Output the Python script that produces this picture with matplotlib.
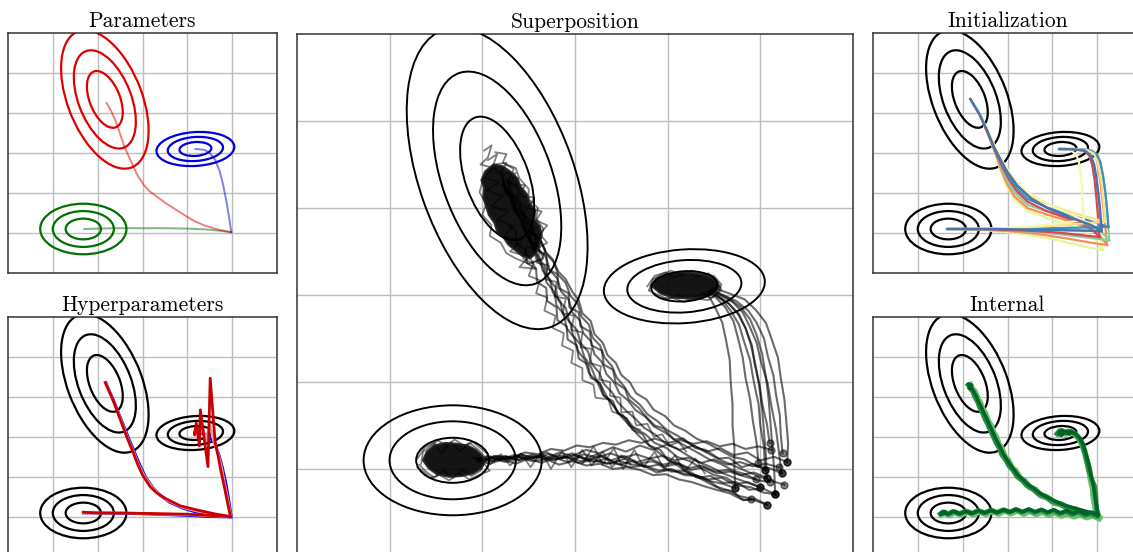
import numpy as np
import matplotlib
matplotlib.use("Agg")
import matplotlib.pyplot as plt
from matplotlib.patches import Ellipse, Polygon

# three gaussian modes: green (bottom left), blue (right), red (top)
mode_means = [(1.68, 1.10), (4.18, 3.10), (2.16, 4.34)]
mode_sx = [0.394, 0.356, 0.40]
mode_sy = [0.259, 0.175, 0.71]
mode_rho = [0.0, 0.12, -0.45]
levels = [1.0, 1.73, 2.44]
param_colors = ["#007000", "#0000dd", "#e00000"]

# --- Parameters panel: one start, three parameter settings
par_green = [(4.98, 1.02), (4.7, 1.06), (4.4, 1.09), (4.0, 1.11), (3.5, 1.12), (3.0, 1.12),
             (2.5, 1.12), (2.0, 1.11), (1.7, 1.10)]
par_blue = [(4.98, 1.02), (4.93, 1.4), (4.87, 1.8), (4.8, 2.2), (4.72, 2.55), (4.62, 2.83),
            (4.5, 3.0), (4.38, 3.08), (4.18, 3.1)]
par_red = [(4.98, 1.02), (4.7, 1.08), (4.4, 1.18), (4.15, 1.3), (3.99, 1.41), (3.75, 1.58),
           (3.5, 1.76), (3.32, 1.91), (3.15, 2.05), (3.03, 2.2), (2.9, 2.42), (2.8, 2.65),
           (2.7, 2.9), (2.6, 3.15), (2.5, 3.48), (2.39, 3.83), (2.3, 4.05), (2.2, 4.25)]

# --- Hyperparameters panel: blue, pink and red runs
hyp_colors = ["#0000ff", "#ff9a9a", "#c80000"]
hyp_green = [
    [(4.98, 1.0), (4.5, 1.01), (4.0, 1.04), (3.5, 1.06), (3.0, 1.08), (2.5, 1.09), (2.0, 1.1), (1.68, 1.1)],
    [(4.97, 1.01), (4.5, 1.03), (4.0, 1.06), (3.5, 1.07), (3.0, 1.09), (2.5, 1.1), (2.0, 1.1), (1.68, 1.1)],
    [(4.96, 1.01), (4.5, 1.04), (4.0, 1.07), (3.5, 1.08), (3.0, 1.09), (2.5, 1.1), (2.0, 1.1), (1.68, 1.12)],
]
hyp_red = [
    [(4.98, 1.0), (4.6, 1.05), (4.2, 1.12), (3.9, 1.22), (3.6, 1.37), (3.38, 1.55), (3.22, 1.75),
     (3.06, 2.02), (2.93, 2.33), (2.83, 2.6), (2.68, 3.0), (2.52, 3.45), (2.36, 3.9), (2.18, 4.36)],
    [(4.97, 1.0), (4.6, 1.07), (4.2, 1.15), (3.87, 1.25), (3.55, 1.42), (3.34, 1.59), (3.2, 1.76),
     (3.03, 2.04), (2.9, 2.34), (2.81, 2.6), (2.66, 3.0), (2.51, 3.45), (2.35, 3.9), (2.17, 4.36)],
    [(4.96, 1.01), (4.6, 1.08), (4.2, 1.18), (3.84, 1.28), (3.5, 1.47), (3.3, 1.62), (3.17, 1.76),
     (3.0, 2.05), (2.88, 2.35), (2.8, 2.59), (2.65, 3.0), (2.5, 3.45), (2.35, 3.9), (2.17, 4.36)],
]
hyp_blue = [
    [(4.98, 1.02), (4.92, 1.45), (4.86, 1.85), (4.78, 2.25), (4.7, 2.58), (4.6, 2.85), (4.48, 3.02),
     (4.34, 3.09), (4.18, 3.1)],
    [(4.97, 1.02), (4.89, 1.5), (4.82, 1.9), (4.75, 2.3), (4.68, 2.62), (4.6, 2.85), (4.5, 3.3),
     (4.42, 2.9), (4.35, 3.2), (4.25, 3.05), (4.18, 3.1)],
    [(4.96, 1.02), (4.88, 1.45), (4.81, 1.84), (4.74, 2.2), (4.69, 2.51), (4.64, 2.75), (4.62, 2.88),
     (4.51, 4.47), (4.46, 2.26), (4.29, 3.68), (4.27, 2.78), (4.2, 3.35), (4.16, 3.05), (4.17, 3.13)],
]

# --- Initialization panel: several starts, each run goes to the three modes
init_cvals = [0.6, 0.25, 0.75, 0.12, 0.88, 0.4, 0.55]
init_green = [
    [(5.12, 0.58), (4.8, 0.64), (4.4, 0.74), (4.0, 0.85), (3.5, 0.95), (3.0, 1.02), (2.5, 1.07), (2.0, 1.09), (1.7, 1.1)],
    [(5.22, 0.7), (4.85, 0.76), (4.45, 0.84), (4.0, 0.92), (3.5, 1.0), (3.0, 1.05), (2.5, 1.08), (2.0, 1.1), (1.7, 1.1)],
    [(5.27, 0.82), (4.9, 0.87), (4.45, 0.93), (4.0, 0.99), (3.5, 1.04), (3.0, 1.07), (2.5, 1.09), (2.0, 1.1), (1.7, 1.1)],
    [(5.05, 0.9), (4.7, 0.94), (4.3, 0.99), (3.9, 1.03), (3.4, 1.06), (2.9, 1.08), (2.4, 1.1), (2.0, 1.1), (1.7, 1.1)],
    [(5.25, 1.15), (4.85, 1.14), (4.4, 1.13), (3.9, 1.12), (3.4, 1.11), (2.9, 1.11), (2.4, 1.1), (2.0, 1.1), (1.7, 1.1)],
    [(5.18, 1.28), (4.8, 1.25), (4.35, 1.21), (3.9, 1.17), (3.4, 1.14), (2.9, 1.12), (2.4, 1.11), (2.0, 1.1), (1.7, 1.1)],
    [(4.7, 1.32), (4.4, 1.28), (4.0, 1.22), (3.55, 1.17), (3.05, 1.13), (2.55, 1.11), (2.1, 1.1), (1.7, 1.1)],
]
init_red = [
    [(5.12, 0.58), (4.95, 0.85), (4.7, 1.05), (4.35, 1.2), (3.95, 1.35), (3.45, 1.55), (3.15, 1.85), (2.97, 2.2),
     (2.85, 2.55), (2.72, 3.0), (2.55, 3.5), (2.38, 3.95), (2.18, 4.32)],
    [(5.22, 0.7), (5.05, 0.95), (4.8, 1.12), (4.45, 1.27), (4.0, 1.42), (3.45, 1.62), (3.15, 1.92), (2.98, 2.25),
     (2.86, 2.58), (2.72, 3.02), (2.56, 3.5), (2.39, 3.94), (2.18, 4.32)],
    [(5.27, 0.82), (5.08, 1.05), (4.82, 1.2), (4.45, 1.34), (4.0, 1.5), (3.45, 1.7), (3.18, 1.98), (3.0, 2.3),
     (2.87, 2.62), (2.72, 3.04), (2.56, 3.52), (2.39, 3.95), (2.18, 4.32)],
    [(5.05, 0.9), (4.88, 1.1), (4.62, 1.25), (4.25, 1.4), (3.85, 1.56), (3.45, 1.78), (3.2, 2.05), (3.02, 2.36),
     (2.88, 2.66), (2.72, 3.06), (2.55, 3.52), (2.38, 3.95), (2.18, 4.32)],
    [(5.25, 1.15), (5.0, 1.25), (4.7, 1.35), (4.3, 1.48), (3.9, 1.63), (3.45, 1.85), (3.22, 2.1), (3.03, 2.4),
     (2.89, 2.7), (2.73, 3.08), (2.56, 3.54), (2.39, 3.96), (2.18, 4.32)],
    [(5.18, 1.28), (4.92, 1.36), (4.6, 1.46), (4.2, 1.6), (3.8, 1.77), (3.45, 1.95), (3.24, 2.18), (3.05, 2.45),
     (2.9, 2.74), (2.74, 3.1), (2.56, 3.55), (2.38, 3.97), (2.18, 4.32)],
    [(4.7, 1.32), (4.45, 1.45), (4.1, 1.62), (3.75, 1.82), (3.45, 2.02), (3.22, 2.25), (3.05, 2.5), (2.9, 2.78),
     (2.74, 3.12), (2.56, 3.56), (2.38, 3.98), (2.18, 4.32)],
]
init_blue = [
    [(5.12, 0.58), (5.08, 1.1), (5.03, 1.6), (4.98, 2.1), (4.93, 2.55), (4.88, 2.88), (4.78, 3.04), (4.55, 3.09), (4.18, 3.1)],
    [(5.22, 0.7), (5.18, 1.2), (5.13, 1.7), (5.08, 2.2), (5.03, 2.62), (4.97, 2.92), (4.85, 3.06), (4.6, 3.09), (4.18, 3.1)],
    [(5.27, 0.82), (5.24, 1.3), (5.2, 1.8), (5.15, 2.25), (5.09, 2.65), (5.02, 2.94), (4.88, 3.07), (4.62, 3.1), (4.18, 3.1)],
    [(5.05, 0.9), (5.02, 1.4), (4.98, 1.9), (4.94, 2.35), (4.89, 2.7), (4.82, 2.94), (4.7, 3.06), (4.48, 3.09), (4.18, 3.1)],
    [(5.25, 1.15), (5.22, 1.6), (5.18, 2.05), (5.13, 2.45), (5.07, 2.78), (4.98, 2.98), (4.82, 3.07), (4.55, 3.1), (4.18, 3.1)],
    [(5.18, 1.28), (5.15, 1.7), (5.11, 2.12), (5.06, 2.5), (5.0, 2.8), (4.92, 2.99), (4.78, 3.07), (4.52, 3.1), (4.18, 3.1)],
    [(4.7, 1.32), (4.68, 1.75), (4.66, 2.15), (4.63, 2.5), (4.59, 2.8), (4.52, 2.98), (4.4, 3.07), (4.18, 3.1)],
]
init_main_green = [(5.1, 1.05), (4.7, 1.06), (4.2, 1.07), (3.7, 1.08), (3.2, 1.09), (2.7, 1.1), (2.2, 1.1), (1.65, 1.1)]
init_main_red = [(5.1, 1.05), (4.9, 1.18), (4.62, 1.3), (4.25, 1.45), (3.88, 1.63), (3.52, 1.87), (3.22, 2.18),
                 (3.0, 2.52), (2.85, 2.82), (2.7, 3.15), (2.55, 3.55), (2.4, 3.92), (2.28, 4.15), (2.17, 4.35)]
init_main_blue = [(5.1, 1.05), (5.07, 1.5), (5.03, 1.95), (4.98, 2.38), (4.93, 2.72), (4.85, 2.95), (4.72, 3.06),
                  (4.5, 3.09), (4.15, 3.1)]

# --- Internal panel: noisy runs from one start (light, mid, dark)
int_colors = ["#6abf6e", "#2a8f46", "#006428"]
int_widths = [4.4, 3.4, 2.6]
int_green = [
    [(5.04, 0.97), (4.9, 1.04), (4.76, 0.99), (4.62, 1.07), (4.48, 1.01), (4.34, 1.09), (4.2, 1.03), (4.06, 1.12),
     (3.92, 1.05), (3.78, 1.13), (3.64, 1.07), (3.5, 1.15), (3.36, 1.08), (3.22, 1.16), (3.08, 1.09), (2.94, 1.16),
     (2.8, 1.08), (2.66, 1.15), (2.52, 1.07), (2.38, 1.14), (2.24, 1.06), (2.1, 1.13), (1.96, 1.05), (1.82, 1.12),
     (1.7, 1.04), (1.6, 1.11), (1.52, 1.06)],
    [(5.0, 1.03), (4.86, 1.08), (4.72, 1.04), (4.58, 1.12), (4.44, 1.06), (4.3, 1.14), (4.16, 1.08), (4.02, 1.16),
     (3.88, 1.1), (3.74, 1.17), (3.6, 1.11), (3.46, 1.18), (3.32, 1.12), (3.18, 1.19), (3.04, 1.12), (2.9, 1.18),
     (2.76, 1.11), (2.62, 1.17), (2.48, 1.1), (2.34, 1.16), (2.2, 1.09), (2.06, 1.15), (1.92, 1.08), (1.78, 1.14),
     (1.66, 1.07), (1.56, 1.13), (1.5, 1.08)],
    [(5.02, 1.06), (4.88, 1.12), (4.74, 1.07), (4.6, 1.15), (4.46, 1.09), (4.32, 1.16), (4.18, 1.1), (4.04, 1.18),
     (3.9, 1.12), (3.76, 1.19), (3.62, 1.13), (3.48, 1.2), (3.34, 1.13), (3.2, 1.19), (3.06, 1.12), (2.92, 1.18),
     (2.78, 1.11), (2.64, 1.17), (2.5, 1.1), (2.36, 1.16), (2.22, 1.09), (2.08, 1.14), (1.94, 1.08), (1.8, 1.14),
     (1.68, 1.07), (1.58, 1.13), (1.52, 1.07), (1.62, 1.12), (1.55, 1.1)],
]
int_red = [
    [(5.04, 0.99), (4.87, 1.08), (4.7, 1.09), (4.53, 1.19), (4.36, 1.2), (4.19, 1.32), (4.04, 1.35), (3.89, 1.49),
     (3.75, 1.53), (3.62, 1.69), (3.5, 1.74), (3.38, 1.91), (3.28, 1.97), (3.18, 2.16), (3.1, 2.22), (3.01, 2.43),
     (2.94, 2.5), (2.87, 2.72), (2.81, 2.8), (2.74, 3.02), (2.69, 3.1), (2.62, 3.31), (2.57, 3.39), (2.5, 3.6),
     (2.45, 3.68), (2.38, 3.88), (2.34, 3.95), (2.27, 4.14), (2.22, 4.19), (2.17, 4.3)],
    [(5.0, 1.02), (4.83, 1.09), (4.66, 1.13), (4.49, 1.2), (4.32, 1.24), (4.15, 1.33), (3.99, 1.39), (3.84, 1.5),
     (3.69, 1.57), (3.56, 1.7), (3.43, 1.78), (3.32, 1.92), (3.21, 2.01), (3.12, 2.17), (3.03, 2.28), (2.95, 2.44),
     (2.87, 2.56), (2.81, 2.73), (2.74, 2.86), (2.68, 3.02), (2.62, 3.15), (2.56, 3.31), (2.5, 3.44), (2.44, 3.6),
     (2.38, 3.73), (2.33, 3.88), (2.27, 4.0), (2.22, 4.14), (2.16, 4.24), (2.12, 4.3)],
    [(5.02, 1.05), (4.86, 1.11), (4.69, 1.16), (4.52, 1.21), (4.35, 1.27), (4.18, 1.34), (4.02, 1.42), (3.87, 1.51),
     (3.72, 1.6), (3.59, 1.71), (3.46, 1.81), (3.35, 1.93), (3.24, 2.04), (3.15, 2.18), (3.06, 2.31), (2.98, 2.45),
     (2.9, 2.59), (2.84, 2.74), (2.77, 2.89), (2.71, 3.03), (2.65, 3.18), (2.59, 3.32), (2.53, 3.47), (2.47, 3.61),
     (2.41, 3.76), (2.35, 3.89), (2.3, 4.03), (2.24, 4.15), (2.18, 4.26), (2.13, 4.32), (2.2, 4.3), (2.15, 4.22)],
]
int_blue = [
    [(5.04, 0.99), (4.96, 1.22), (4.92, 1.48), (4.9, 1.72), (4.85, 1.96), (4.82, 2.22), (4.76, 2.44), (4.72, 2.64),
     (4.66, 2.82), (4.59, 2.97), (4.5, 3.07), (4.4, 3.13), (4.3, 3.08), (4.2, 3.15), (4.14, 3.08)],
    [(5.0, 1.02), (4.98, 1.3), (4.97, 1.55), (4.95, 1.75), (4.88, 1.95), (4.8, 2.2), (4.76, 2.45), (4.7, 2.68),
     (4.65, 2.86), (4.57, 3.0), (4.47, 3.1), (4.36, 3.15), (4.26, 3.11), (4.16, 3.16), (4.1, 3.08)],
    [(5.02, 1.05), (4.99, 1.28), (4.95, 1.52), (4.92, 1.76), (4.87, 2.0), (4.83, 2.24), (4.78, 2.46), (4.73, 2.66),
     (4.68, 2.84), (4.61, 2.98), (4.52, 3.08), (4.42, 3.14), (4.32, 3.1), (4.22, 3.17), (4.13, 3.1), (4.2, 3.04),
     (4.3, 3.14), (4.38, 3.08)],
]

# --- Superposition panel: many noisy runs, circle at each start
sup_to_blue = [
    [(5.24, 1.18), (5.22, 1.4), (5.21, 1.62), (5.17, 1.85), (5.14, 2.08), (5.08, 2.3), (5.04, 2.5), (4.96, 2.68),
     (4.87, 2.82), (4.74, 2.93), (4.6, 3.0), (4.48, 3.06)],
    [(5.29, 1.08), (5.3, 1.3), (5.28, 1.55), (5.26, 1.8), (5.22, 2.05), (5.19, 2.28), (5.12, 2.5), (5.06, 2.68),
     (4.95, 2.83), (4.83, 2.95), (4.66, 3.02), (4.5, 3.08)],
    [(5.1, 1.3), (5.07, 1.52), (5.02, 1.75), (4.99, 1.98), (4.94, 2.2), (4.91, 2.42), (4.84, 2.62), (4.77, 2.78),
     (4.66, 2.9), (4.55, 2.98), (4.45, 3.04)],
    [(4.98, 1.07), (4.96, 1.3), (4.92, 1.55), (4.89, 1.8), (4.84, 2.05), (4.81, 2.28), (4.76, 2.5), (4.71, 2.7),
     (4.62, 2.86), (4.52, 2.97), (4.42, 3.04)],
    [(5.23, 0.95), (5.2, 1.2), (5.17, 1.45), (5.12, 1.72), (5.08, 1.98), (5.01, 2.22), (4.96, 2.45), (4.88, 2.65),
     (4.81, 2.8), (4.7, 2.92), (4.56, 3.0), (4.46, 3.05)],
    [(5.05, 0.99), (5.04, 1.25), (5.0, 1.5), (4.98, 1.75), (4.93, 2.0), (4.89, 2.25), (4.82, 2.48), (4.77, 2.66),
     (4.68, 2.82), (4.59, 2.94), (4.48, 3.02)],
    [(4.73, 0.78), (4.72, 1.0), (4.72, 1.25), (4.7, 1.5), (4.7, 1.75), (4.68, 2.0), (4.67, 2.25), (4.63, 2.48),
     (4.59, 2.68), (4.52, 2.84), (4.46, 2.96), (4.38, 3.03)],
    [(5.07, 0.9), (5.06, 1.15), (5.04, 1.42), (5.02, 1.68), (4.99, 1.94), (4.95, 2.18), (4.9, 2.42), (4.84, 2.62),
     (4.76, 2.78), (4.66, 2.9), (4.55, 2.98), (4.46, 3.04)],
    [(5.16, 0.71), (5.15, 0.98), (5.13, 1.25), (5.11, 1.52), (5.09, 1.8), (5.06, 2.06), (5.02, 2.32), (4.96, 2.54),
     (4.89, 2.72), (4.79, 2.86), (4.66, 2.96), (4.52, 3.03)],
]
sup_to_green = [
    [(5.07, 0.59), (4.94, 0.64), (4.8, 0.65), (4.67, 0.72), (4.53, 0.76), (4.4, 0.8), (4.26, 0.85), (4.12, 0.88),
     (3.98, 0.94), (3.84, 0.93), (3.7, 0.99), (3.56, 1.02), (3.41, 1.0), (3.27, 1.06), (3.12, 1.04), (2.98, 1.09),
     (2.83, 1.05), (2.69, 1.11), (2.54, 1.09), (2.4, 1.13), (2.25, 1.08), (2.11, 1.12), (1.97, 1.09)],
    [(5.0, 0.79), (4.86, 0.85), (4.72, 0.82), (4.58, 0.9), (4.44, 0.88), (4.3, 0.93), (4.16, 0.95), (4.02, 0.99),
     (3.88, 0.96), (3.74, 1.04), (3.6, 1.02), (3.46, 1.06), (3.32, 1.07), (3.18, 1.1), (3.04, 1.07), (2.9, 1.14),
     (2.76, 1.1), (2.62, 1.15), (2.48, 1.12), (2.34, 1.16), (2.2, 1.11), (2.06, 1.15), (1.94, 1.11)],
    [(5.12, 1.22), (4.98, 1.26), (4.84, 1.23), (4.7, 1.29), (4.56, 1.26), (4.42, 1.32), (4.28, 1.29), (4.14, 1.33),
     (4.0, 1.3), (3.86, 1.35), (3.72, 1.3), (3.58, 1.33), (3.44, 1.28), (3.3, 1.3), (3.16, 1.25), (3.02, 1.27),
     (2.88, 1.21), (2.74, 1.23), (2.6, 1.17), (2.46, 1.19), (2.32, 1.13), (2.18, 1.15), (2.04, 1.1), (1.92, 1.13)],
    [(5.2, 1.02), (5.06, 1.06), (4.92, 1.03), (4.78, 1.08), (4.64, 1.05), (4.5, 1.11), (4.36, 1.07), (4.22, 1.13),
     (4.08, 1.1), (3.94, 1.15), (3.8, 1.12), (3.66, 1.17), (3.52, 1.13), (3.38, 1.18), (3.24, 1.13), (3.1, 1.17),
     (2.96, 1.12), (2.82, 1.16), (2.68, 1.11), (2.54, 1.15), (2.4, 1.1), (2.26, 1.14), (2.12, 1.09), (1.98, 1.12)],
    [(4.73, 0.78), (4.6, 0.83), (4.46, 0.86), (4.32, 0.92), (4.18, 0.93), (4.04, 1.0), (3.9, 0.98), (3.76, 1.04),
     (3.62, 1.05), (3.48, 1.09), (3.34, 1.06), (3.2, 1.12), (3.06, 1.09), (2.92, 1.14), (2.78, 1.11), (2.64, 1.16),
     (2.5, 1.11), (2.36, 1.15), (2.22, 1.1), (2.08, 1.13), (1.95, 1.09)],
    [(5.07, 0.9), (4.93, 0.96), (4.79, 0.93), (4.65, 0.99), (4.51, 0.97), (4.37, 1.04), (4.23, 1.01), (4.09, 1.08),
     (3.95, 1.05), (3.81, 1.12), (3.67, 1.08), (3.53, 1.15), (3.39, 1.1), (3.25, 1.17), (3.11, 1.12), (2.97, 1.18),
     (2.83, 1.13), (2.69, 1.19), (2.55, 1.13), (2.41, 1.17), (2.27, 1.11), (2.13, 1.15), (1.99, 1.1)],
    [(4.95, 0.88), (4.81, 0.92), (4.67, 0.97), (4.53, 0.95), (4.39, 1.02), (4.25, 0.99), (4.11, 1.06), (3.97, 1.03),
     (3.83, 1.09), (3.69, 1.06), (3.55, 1.12), (3.41, 1.08), (3.27, 1.15), (3.13, 1.1), (2.99, 1.16), (2.85, 1.12),
     (2.71, 1.17), (2.57, 1.12), (2.43, 1.16), (2.29, 1.11), (2.15, 1.15), (2.01, 1.1), (1.9, 1.13)],
    [(5.29, 1.08), (5.15, 1.14), (5.0, 1.1), (4.86, 1.19), (4.71, 1.16), (4.57, 1.24), (4.42, 1.2), (4.28, 1.27),
     (4.13, 1.22), (3.99, 1.28), (3.84, 1.22), (3.7, 1.27), (3.55, 1.2), (3.41, 1.25), (3.26, 1.18), (3.12, 1.22),
     (2.97, 1.15), (2.83, 1.19), (2.68, 1.12), (2.54, 1.17), (2.39, 1.1), (2.25, 1.15), (2.1, 1.09), (1.98, 1.13)],
    [(5.16, 0.71), (5.02, 0.78), (4.88, 0.76), (4.74, 0.85), (4.6, 0.84), (4.46, 0.92), (4.32, 0.9), (4.18, 0.98),
     (4.04, 0.97), (3.9, 1.05), (3.76, 1.02), (3.62, 1.09), (3.48, 1.05), (3.34, 1.12), (3.2, 1.08), (3.06, 1.14),
     (2.92, 1.08), (2.78, 1.13), (2.64, 1.07), (2.5, 1.12), (2.36, 1.06), (2.22, 1.11), (2.08, 1.06), (1.96, 1.1)],
]
sup_to_red = [
    [(5.16, 0.71), (5.03, 0.73), (4.9, 0.79), (4.77, 0.81), (4.63, 0.9), (4.5, 0.93), (4.36, 1.01), (4.24, 1.09),
     (4.1, 1.14), (3.99, 1.24), (3.86, 1.3), (3.76, 1.4), (3.64, 1.47), (3.55, 1.58), (3.47, 1.64), (3.38, 1.78),
     (3.3, 1.86), (3.24, 2.0), (3.15, 2.1), (3.11, 2.25), (3.03, 2.36), (2.99, 2.51), (2.91, 2.62), (2.88, 2.78),
     (2.8, 2.88), (2.78, 3.03), (2.69, 3.15), (2.66, 3.31), (2.58, 3.42), (2.55, 3.58), (2.47, 3.69), (2.44, 3.84),
     (2.36, 3.96), (2.33, 4.11), (2.25, 4.22), (2.22, 4.37), (2.14, 4.45)],
    [(5.23, 0.95), (5.1, 1.01), (4.96, 1.03), (4.83, 1.11), (4.7, 1.14), (4.56, 1.22), (4.44, 1.29), (4.31, 1.35),
     (4.19, 1.44), (4.07, 1.5), (3.97, 1.61), (3.85, 1.68), (3.77, 1.8), (3.66, 1.87), (3.59, 2.0), (3.5, 2.08),
     (3.44, 2.22), (3.35, 2.31), (3.3, 2.45), (3.21, 2.55), (3.17, 2.7), (3.08, 2.79), (3.04, 2.94), (2.97, 3.04),
     (2.9, 3.18), (2.82, 3.27), (2.76, 3.41), (2.68, 3.5), (2.62, 3.64), (2.53, 3.73), (2.49, 3.87), (2.41, 3.96),
     (2.37, 4.1), (2.29, 4.19), (2.26, 4.33)],
    [(5.0, 0.79), (4.87, 0.84), (4.74, 0.89), (4.6, 0.95), (4.47, 1.02), (4.34, 1.08), (4.21, 1.16), (4.09, 1.24),
     (3.97, 1.3), (3.86, 1.4), (3.75, 1.47), (3.65, 1.58), (3.56, 1.66), (3.46, 1.77), (3.4, 1.88), (3.31, 1.98),
     (3.26, 2.11), (3.18, 2.21), (3.14, 2.35), (3.06, 2.45), (3.02, 2.6), (2.94, 2.69), (2.9, 2.85), (2.82, 2.94),
     (2.79, 3.09), (2.71, 3.19), (2.67, 3.34), (2.59, 3.44), (2.56, 3.59), (2.48, 3.69), (2.44, 3.83), (2.37, 3.94),
     (2.33, 4.08), (2.25, 4.18), (2.22, 4.32)],
    [(4.9, 0.66), (4.77, 0.69), (4.64, 0.76), (4.51, 0.8), (4.37, 0.88), (4.25, 0.94), (4.12, 1.03), (4.01, 1.1),
     (3.89, 1.2), (3.79, 1.28), (3.68, 1.39), (3.6, 1.49), (3.5, 1.6), (3.43, 1.71), (3.35, 1.82), (3.29, 1.94),
     (3.22, 2.05), (3.17, 2.18), (3.1, 2.29), (3.06, 2.43), (2.98, 2.53), (2.95, 2.68), (2.87, 2.78), (2.84, 2.93),
     (2.76, 3.03), (2.73, 3.18), (2.65, 3.28), (2.62, 3.43), (2.54, 3.53), (2.51, 3.68), (2.43, 3.78), (2.4, 3.93),
     (2.32, 4.03), (2.29, 4.17), (2.21, 4.27)],
    [(5.26, 0.82), (5.13, 0.86), (5.0, 0.91), (4.86, 0.97), (4.73, 1.03), (4.6, 1.09), (4.47, 1.16), (4.35, 1.23),
     (4.22, 1.3), (4.11, 1.38), (3.99, 1.45), (3.89, 1.55), (3.78, 1.63), (3.7, 1.74), (3.6, 1.83), (3.53, 1.95),
     (3.45, 2.05), (3.4, 2.18), (3.32, 2.28), (3.27, 2.42), (3.19, 2.51), (3.15, 2.66), (3.07, 2.75), (3.03, 2.9),
     (2.95, 2.99), (2.9, 3.14), (2.82, 3.23), (2.77, 3.38), (2.69, 3.47), (2.64, 3.61), (2.56, 3.71), (2.52, 3.85),
     (2.44, 3.95), (2.4, 4.09), (2.32, 4.18), (2.28, 4.31)],
    [(5.1, 0.85), (4.97, 0.87), (4.84, 0.94), (4.71, 0.98), (4.57, 1.06), (4.45, 1.11), (4.32, 1.19), (4.2, 1.26),
     (4.08, 1.33), (3.97, 1.42), (3.85, 1.49), (3.76, 1.6), (3.65, 1.68), (3.57, 1.79), (3.48, 1.87), (3.42, 2.0),
     (3.34, 2.09), (3.29, 2.23), (3.21, 2.32), (3.17, 2.47), (3.09, 2.56), (3.05, 2.71), (2.97, 2.8), (2.93, 2.95),
     (2.85, 3.04), (2.81, 3.19), (2.73, 3.28), (2.69, 3.43), (2.61, 3.52), (2.57, 3.67), (2.49, 3.76), (2.45, 3.91),
     (2.37, 4.0), (2.33, 4.14), (2.25, 4.23), (2.21, 4.37)],
    [(5.05, 0.99), (4.92, 1.06), (4.8, 1.02), (4.66, 1.13), (4.55, 1.12), (4.41, 1.22), (4.3, 1.24), (4.17, 1.35),
     (4.07, 1.34), (3.95, 1.47), (3.86, 1.5), (3.75, 1.62), (3.69, 1.7), (3.58, 1.8), (3.54, 1.92), (3.44, 1.99),
     (3.41, 2.14), (3.31, 2.2), (3.29, 2.36), (3.18, 2.42), (3.16, 2.58), (3.06, 2.64), (3.04, 2.8), (2.94, 2.86),
     (2.93, 3.02), (2.82, 3.08), (2.81, 3.24), (2.7, 3.3), (2.69, 3.46), (2.58, 3.52), (2.57, 3.68), (2.46, 3.74),
     (2.45, 3.9), (2.34, 3.96), (2.33, 4.12), (2.24, 4.2)],
    [(5.07, 0.59), (4.94, 0.66), (4.82, 0.64), (4.69, 0.75), (4.58, 0.76), (4.45, 0.86), (4.35, 0.9), (4.22, 0.98),
     (4.13, 1.05), (4.0, 1.11), (3.92, 1.22), (3.8, 1.27), (3.73, 1.4), (3.62, 1.45), (3.56, 1.58), (3.46, 1.64),
     (3.41, 1.78), (3.31, 1.84), (3.27, 1.99), (3.17, 2.05), (3.14, 2.2), (3.04, 2.27), (3.02, 2.42), (2.92, 2.49),
     (2.91, 2.64), (2.81, 2.71), (2.8, 2.86), (2.7, 2.93), (2.69, 3.08), (2.59, 3.15), (2.58, 3.3), (2.48, 3.37),
     (2.47, 3.52), (2.37, 3.59), (2.36, 3.74), (2.28, 3.8)],
]
# extra noisy stretches inside the bundles (no start marker)
sup_extra = [
    [(4.2, 1.2), (4.12, 1.31), (4.02, 1.27), (3.94, 1.4), (3.85, 1.37), (3.78, 1.52), (3.66, 1.5), (3.62, 1.66),
     (3.5, 1.65), (3.49, 1.82), (3.38, 1.84), (3.38, 2.0), (3.26, 2.03), (3.28, 2.18), (3.16, 2.22), (3.18, 2.38),
     (3.06, 2.4), (3.08, 2.57), (2.96, 2.6), (2.99, 2.76), (2.87, 2.79), (2.9, 2.96), (2.78, 2.98), (2.8, 3.15),
     (2.68, 3.18), (2.71, 3.34), (2.59, 3.37), (2.62, 3.52), (2.5, 3.55)],
    [(3.7, 1.45), (3.58, 1.5), (3.52, 1.62), (3.4, 1.66), (3.36, 1.8), (3.22, 1.82), (3.2, 1.97), (3.08, 2.02),
     (3.08, 2.16), (2.96, 2.22), (2.98, 2.36), (2.86, 2.42), (2.88, 2.56), (2.76, 2.62), (2.79, 2.76), (2.67, 2.82),
     (2.7, 2.97), (2.58, 3.02), (2.62, 3.17), (2.5, 3.22), (2.55, 3.36), (2.44, 3.42), (2.48, 3.56)],
    [(3.6, 1.05), (3.5, 1.16), (3.4, 1.02), (3.3, 1.2), (3.18, 1.04), (3.08, 1.22), (2.96, 1.02), (2.86, 1.21),
     (2.74, 1.0), (2.64, 1.2), (2.52, 1.02), (2.42, 1.18), (2.3, 1.04), (2.2, 1.17), (2.08, 1.05), (2.0, 1.14)],
    [(4.4, 0.95), (4.3, 1.12), (4.18, 0.97), (4.08, 1.16), (3.96, 1.0), (3.86, 1.2), (3.74, 1.02), (3.64, 1.22),
     (3.52, 1.0), (3.42, 1.24), (3.3, 1.05), (3.2, 1.26), (3.08, 1.06)],
]
# dense masses where the runs settle (outlines), and loose scribbles round them
sup_blob_core = [
    [(2.12, 4.5), (2.22, 4.48), (2.3, 4.42), (2.38, 4.34), (2.41, 4.25), (2.48, 4.16), (2.51, 4.06), (2.57, 3.97),
     (2.56, 3.87), (2.62, 3.79), (2.64, 3.69), (2.62, 3.58), (2.58, 3.48), (2.51, 3.42), (2.43, 3.45), (2.36, 3.51),
     (2.28, 3.58), (2.23, 3.66), (2.16, 3.73), (2.13, 3.83), (2.07, 3.92), (2.04, 4.02), (2.01, 4.12), (2.02, 4.23),
     (1.99, 4.32), (2.03, 4.42)],
    [(1.36, 1.1), (1.4, 1.2), (1.48, 1.27), (1.6, 1.3), (1.72, 1.29), (1.84, 1.27), (1.93, 1.22), (1.99, 1.16),
     (2.03, 1.09), (1.99, 1.01), (1.9, 0.95), (1.78, 0.92), (1.64, 0.91), (1.51, 0.94), (1.42, 1.01)],
    [(3.82, 3.11), (3.88, 3.19), (3.99, 3.24), (4.14, 3.26), (4.3, 3.25), (4.43, 3.22), (4.52, 3.16), (4.56, 3.09),
     (4.5, 3.02), (4.38, 2.97), (4.22, 2.96), (4.05, 2.97), (3.92, 3.02)],
]
sup_blob_fringe = [
    [(2.02, 4.66), (2.1, 4.72), (2.06, 4.58), (1.98, 4.5), (2.12, 4.46), (2.02, 4.35), (2.18, 4.3), (2.05, 4.2),
     (2.22, 4.14), (2.1, 4.02), (2.28, 3.96), (2.16, 3.86), (2.34, 3.8), (2.24, 3.68), (2.42, 3.62), (2.3, 3.5),
     (2.5, 3.44), (2.4, 3.32), (2.58, 3.3), (2.52, 3.42), (2.62, 3.55), (2.5, 3.62), (2.56, 3.78), (2.44, 3.86),
     (2.48, 4.0), (2.36, 4.08), (2.4, 4.22), (2.28, 4.3), (2.34, 4.45), (2.22, 4.52), (2.26, 4.62), (2.14, 4.64)],
    [(2.0, 4.3), (1.97, 4.18), (2.04, 4.05), (2.0, 3.92), (2.1, 3.8), (2.08, 3.68), (2.2, 3.6), (2.26, 3.48),
     (2.36, 3.42), (2.5, 3.36), (2.64, 3.4), (2.68, 3.52), (2.62, 3.64), (2.66, 3.76), (2.58, 3.88), (2.6, 4.0),
     (2.5, 4.1), (2.5, 4.22), (2.4, 4.34), (2.36, 4.46), (2.26, 4.5)],
    [(2.06, 4.55), (2.16, 4.62), (2.12, 4.5), (2.26, 4.52), (2.2, 4.4), (2.36, 4.4), (2.3, 4.28), (2.46, 4.26),
     (2.4, 4.14), (2.56, 4.12), (2.5, 4.0), (2.64, 3.96), (2.58, 3.86), (2.7, 3.8), (2.62, 3.7), (2.7, 3.6),
     (2.6, 3.54), (2.66, 3.42), (2.54, 3.38)],
    [(1.3, 1.12), (1.38, 1.25), (1.48, 1.3), (1.56, 1.18), (1.66, 1.31), (1.76, 1.2), (1.86, 1.3), (1.96, 1.22),
     (2.04, 1.12), (1.98, 0.98), (1.88, 0.92), (1.78, 1.0), (1.68, 0.9), (1.58, 0.98), (1.48, 0.9), (1.38, 0.98),
     (1.32, 1.05)],
    [(1.34, 1.06), (1.36, 1.2), (1.45, 1.27), (1.52, 1.33), (1.62, 1.26), (1.7, 1.34), (1.8, 1.27), (1.9, 1.31),
     (1.98, 1.24), (2.06, 1.17), (2.02, 1.06), (2.08, 0.98), (1.96, 0.93), (1.86, 0.88), (1.76, 0.95), (1.64, 0.87),
     (1.54, 0.93), (1.44, 0.9), (1.36, 0.97), (1.3, 1.02)],
    [(3.78, 3.1), (3.86, 3.22), (3.98, 3.26), (4.08, 3.2), (4.2, 3.27), (4.32, 3.21), (4.44, 3.25), (4.54, 3.15),
     (4.58, 3.06), (4.48, 2.97), (4.36, 3.01), (4.24, 2.94), (4.12, 3.0), (4.0, 2.95), (3.88, 3.01), (3.8, 3.05)],
    [(3.8, 3.06), (3.84, 3.18), (3.94, 3.24), (4.04, 3.28), (4.16, 3.22), (4.26, 3.28), (4.4, 3.24), (4.5, 3.22),
     (4.58, 3.12), (4.54, 3.02), (4.44, 2.94), (4.3, 2.96), (4.18, 2.92), (4.04, 2.97), (3.92, 2.96), (3.84, 3.02)],
]

W, H = 1133, 552
fig = plt.figure(figsize=(W / 100, H / 100), dpi=100)


def make_ax(left, top, width, height, title):
    ax = fig.add_axes([left / W, (H - top - height) / H, width / W, height / H])
    ax.set_xlim(0, 6)
    ax.set_ylim(0, 6)
    ax.set_xticks(range(1, 6))
    ax.set_yticks(range(1, 6))
    ax.tick_params(length=0, labelbottom=False, labelleft=False)
    ax.grid(True, color="#bdbdbd", lw=1.0)
    ax.set_axisbelow(True)
    for s in ax.spines.values():
        s.set_color("#333333")
        s.set_linewidth(1.1)
    ax.set_title(title, fontfamily="cmr10", fontsize=15.5, pad=4)
    return ax


def add_modes(ax, colors, lw, z=2):
    for (mx, my), sx, sy, r, c in zip(mode_means, mode_sx, mode_sy, mode_rho, colors):
        cov = np.array([[sx * sx, r * sx * sy], [r * sx * sy, sy * sy]])
        vals, vecs = np.linalg.eigh(cov)
        ang = np.degrees(np.arctan2(vecs[1, 1], vecs[0, 1]))
        for s in levels:
            ax.add_patch(Ellipse((mx, my), 2 * s * np.sqrt(vals[1]), 2 * s * np.sqrt(vals[0]),
                                 angle=ang, fill=False, ec=c, lw=lw, zorder=z))


def line(ax, pts, **kw):
    p = np.array(pts)
    ax.plot(p[:, 0], p[:, 1], **kw)


# Parameters
ax = make_ax(8, 33, 269, 240, "Parameters")
add_modes(ax, param_colors, 1.6)
for pts, c in zip([par_green, par_blue, par_red], param_colors):
    line(ax, pts, color=c, alpha=0.5, lw=1.4, zorder=3)

# Hyperparameters
ax = make_ax(8, 317, 269, 240, "Hyperparameters")
add_modes(ax, ["black"] * 3, 1.6)
for i, c in enumerate(hyp_colors):
    for group in (hyp_green, hyp_red, hyp_blue):
        line(ax, group[i], color=c, lw=2.0, zorder=3 + i)

# Superposition
ax = make_ax(297, 34, 556, 522, "Superposition")
for group in (sup_to_blue, sup_to_green, sup_to_red):
    for pts in group:
        line(ax, pts, color="black", alpha=0.58, lw=1.5, zorder=3)
        ax.plot(pts[0][0], pts[0][1], "o", color="black", alpha=0.5, ms=5, zorder=3)
for pts in sup_extra:
    line(ax, pts, color="black", alpha=0.5, lw=1.3, zorder=3)
for pts in sup_blob_fringe:
    line(ax, pts, color="black", alpha=0.5, lw=1.3, zorder=3)
for pts in sup_blob_core:
    ax.add_patch(Polygon(pts, closed=True, fc="black", ec="#222222", lw=1.5, alpha=0.92, zorder=3))
add_modes(ax, ["black"] * 3, 1.4, z=4)

# Initialization
ax = make_ax(873, 33, 269, 240, "Initialization")
add_modes(ax, ["black"] * 3, 1.6)
for cv, g, r, b in zip(init_cvals, init_green, init_red, init_blue):
    c = plt.cm.Spectral(cv)
    for pts in (g, r, b):
        line(ax, pts, color=c, lw=1.6, zorder=3)
for pts in (init_main_green, init_main_red, init_main_blue):
    line(ax, pts, color="#4c72b0", lw=1.8, zorder=4)

# Internal
ax = make_ax(873, 317, 269, 240, "Internal")
add_modes(ax, ["black"] * 3, 1.6)
for i, (c, w) in enumerate(zip(int_colors, int_widths)):
    for group in (int_green, int_red, int_blue):
        line(ax, group[i], color=c, lw=w, zorder=3 + i)

fig.savefig("out.png", dpi=100)
